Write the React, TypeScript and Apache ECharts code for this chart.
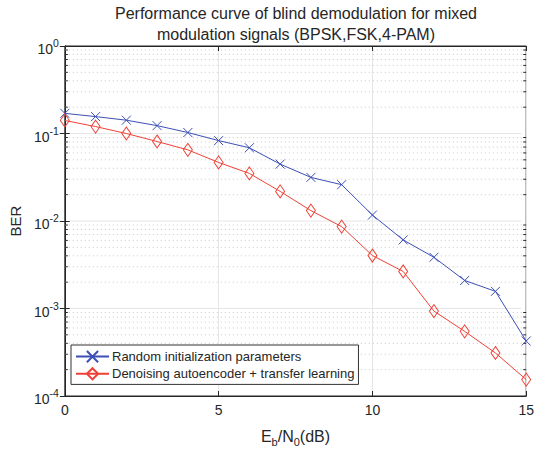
import React, { useEffect, useRef } from "react";
import * as echarts from "echarts";

const snr = [0, 1, 2, 3, 4, 5, 6, 7, 8, 9, 10, 11, 12, 13, 14, 15];
const berRandom = [0.17, 0.156, 0.142, 0.123, 0.1026, 0.083, 0.0687, 0.0447, 0.0315, 0.026, 0.0117, 0.00608, 0.00385, 0.00209, 0.00157, 0.000425];
const berDae = [0.141, 0.12, 0.1, 0.081, 0.065, 0.0467, 0.035, 0.0218, 0.01314, 0.00863, 0.00403, 0.00265, 0.000934, 0.000548, 0.00031, 0.000154];
const seriesNames = ["Random initialization parameters", "Denoising autoencoder + transfer learning"];
const titleLines = ["Performance curve of blind demodulation for mixed", "modulation signals (BPSK,FSK,4-PAM)"];
const decades = [-4, -3, -2, -1];
const minorMultipliers = [2, 3, 4, 5, 6, 7, 8, 9];

const FONT = "'Liberation Sans', Arial, Helvetica, sans-serif";
const BLUE = "#3c4fb6";
const RED = "#ee4136";
const AXIS = "#262626";

export default function App() {
  const ref = useRef<HTMLDivElement>(null);
  useEffect(() => {
    if (!ref.current) return;
    const chart = echarts.init(ref.current, undefined, { renderer: "svg" });
    const minorVals: number[][] = [];
    decades.forEach((d) => minorMultipliers.forEach((m) => minorVals.push([0, m * Math.pow(10, d)])));
    const majorVals = [[0, 1e-3], [0, 1e-2], [0, 1e-1]];
    const xMin = snr[0];
    const xMax = snr[snr.length - 1];

    const option: any = {
      animation: false,
      backgroundColor: "#fff",
      title: {
        text: titleLines.join("\n"),
        left: 296,
        textAlign: "center",
        top: 3,
        padding: 0,
        textStyle: { fontFamily: FONT, fontSize: 16, fontWeight: "normal", color: AXIS, lineHeight: 21 },
      },
      grid: { left: 62, right: 6, top: 46, bottom: 49, show: true, borderColor: AXIS, borderWidth: 1, backgroundColor: "#fff" },
      legend: {
        data: seriesNames,
        orient: "vertical",
        left: 71,
        top: 345,
        backgroundColor: "#fff",
        borderColor: "#333",
        borderWidth: 1,
        borderRadius: 0,
        padding: [5, 4, 4, 4],
        itemGap: 4,
        itemWidth: 33,
        itemHeight: 14,
        textStyle: { fontFamily: FONT, fontSize: 13, color: AXIS, padding: [0, 0, 0, -2] },
      },
      xAxis: [
        {
          type: "value",
          min: 0,
          max: 15,
          interval: 5,
          name: "{n|E}{sub|b}{n|/N}{sub|0}{n|(dB)}",
          nameLocation: "middle",
          nameGap: 30,
          nameTextStyle: {
            rich: {
              n: { fontFamily: FONT, fontSize: 16, color: AXIS },
              sub: { fontFamily: FONT, fontSize: 11, color: AXIS, padding: [10, 0, 0, 0] },
            },
          },
          axisLine: { show: true, lineStyle: { color: AXIS } },
          axisTick: { inside: true, length: 5, lineStyle: { color: AXIS } },
          axisLabel: { fontFamily: FONT, fontSize: 14, color: AXIS, margin: 7 },
          splitLine: { show: true, lineStyle: { color: "#e6e6e6", width: 1 } },
        },
        {
          type: "value",
          position: "top",
          min: 0,
          max: 15,
          interval: 5,
          axisLine: { show: true, lineStyle: { color: AXIS } },
          axisTick: { inside: true, length: 5, lineStyle: { color: AXIS } },
          axisLabel: { show: false },
          splitLine: { show: false },
        },
      ],
      yAxis: [
        {
          type: "log",
          logBase: 10,
          min: 1e-4,
          max: 1,
          interval: 1,
          name: "BER",
          nameLocation: "middle",
          nameGap: 37,
          nameRotate: 90,
          nameTextStyle: { fontFamily: FONT, fontSize: 15, color: AXIS },
          axisLine: { show: true, lineStyle: { color: AXIS } },
          axisTick: { inside: true, length: 5, lineStyle: { color: AXIS } },
          axisLabel: {
            margin: 6,
            formatter: (v: number) => `{b|10}{s|${Math.round(Math.log10(v))}}`,
            rich: {
              b: { fontFamily: FONT, fontSize: 14, color: AXIS, padding: [6, 0, 0, 0] },
              s: { fontFamily: FONT, fontSize: 10.5, color: AXIS, padding: [0, 0, 6, 0] },
            },
          },
          splitLine: { show: false },
        },
        {
          type: "log",
          logBase: 10,
          min: 1e-4,
          max: 1,
          interval: 1,
          position: "right",
          axisLine: { show: true, lineStyle: { color: AXIS } },
          axisTick: { inside: true, length: 5, lineStyle: { color: AXIS } },
          axisLabel: { show: false },
          splitLine: { show: false },
        },
      ],
      series: [
        {
          type: "custom",
          name: "minorGrid",
          silent: true,
          z: 1,
          clip: false,
          data: minorVals,
          renderItem: (params: any, api: any) => {
            const v = api.value(1);
            const p0 = api.coord([xMin, v]);
            const p1 = api.coord([xMax, v]);
            return {
              type: "group",
              children: [
                { type: "line", shape: { x1: p0[0], y1: p0[1], x2: p1[0], y2: p1[1] }, style: { stroke: "#c8c8c8", lineWidth: 1, lineDash: [1, 3] } },
                { type: "line", shape: { x1: p0[0], y1: p0[1], x2: p0[0] + 3, y2: p0[1] }, style: { stroke: AXIS, lineWidth: 1 } },
                { type: "line", shape: { x1: p1[0] - 3, y1: p1[1], x2: p1[0], y2: p1[1] }, style: { stroke: AXIS, lineWidth: 1 } },
              ],
            };
          },
        },
        {
          type: "custom",
          name: "majorGrid",
          silent: true,
          z: 1,
          data: majorVals,
          renderItem: (params: any, api: any) => {
            const v = api.value(1);
            const p0 = api.coord([xMin, v]);
            const p1 = api.coord([xMax, v]);
            return { type: "line", shape: { x1: p0[0] + 5, y1: p0[1], x2: p1[0] - 5, y2: p1[1] }, style: { stroke: "#e6e6e6", lineWidth: 1 } };
          },
        },
        {
          type: "line",
          name: seriesNames[0],
          z: 3,
          data: snr.map((x, i) => [x, berRandom[i]]),
          symbol: "path://M0,0L10,10M10,0L0,10",
          symbolSize: 9,
          lineStyle: { color: BLUE, width: 1 },
          itemStyle: { color: "rgba(0,0,0,0)", borderColor: BLUE, borderWidth: 1 },
        },
        {
          type: "line",
          name: seriesNames[1],
          z: 3,
          data: snr.map((x, i) => [x, berDae[i]]),
          symbol: "diamond",
          symbolSize: [9, 13],
          lineStyle: { color: RED, width: 1 },
          itemStyle: { color: "rgba(255,255,255,0)", borderColor: RED, borderWidth: 1 },
        },
      ],
    };
    chart.setOption(option);
    return () => chart.dispose();
  }, []);
  return <div ref={ref} style={{ position: "fixed", left: 0, top: 0, width: 537, height: 452 }} />;
}
